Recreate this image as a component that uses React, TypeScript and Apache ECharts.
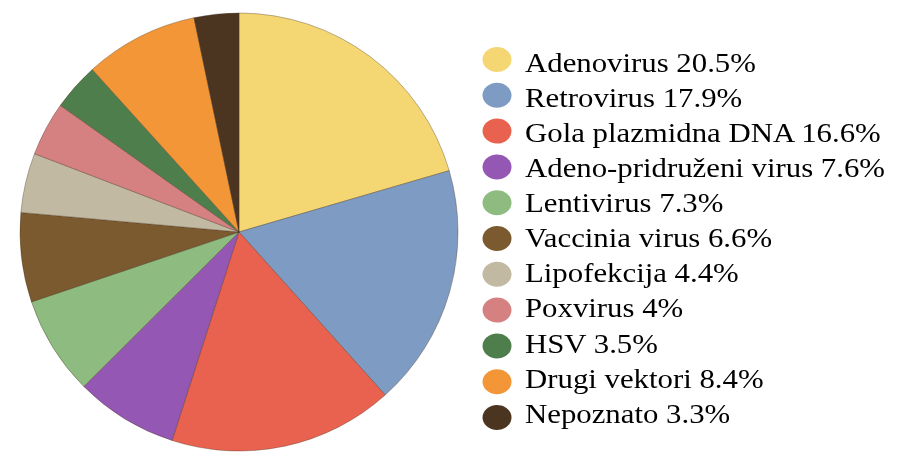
import React, { useEffect, useRef } from "react";
import * as echarts from "echarts";

const categories = [
  "Adenovirus",
  "Retrovirus",
  "Gola plazmidna DNA",
  "Adeno-pridruženi virus",
  "Lentivirus",
  "Vaccinia virus",
  "Lipofekcija",
  "Poxvirus",
  "HSV",
  "Drugi vektori",
  "Nepoznato",
];
const values = [20.5, 17.9, 16.6, 7.6, 7.3, 6.6, 4.4, 4, 3.5, 8.4, 3.3];
const colors = [
  "#F4D672",
  "#7E9CC3",
  "#E9624F",
  "#9457B3",
  "#8EBB80",
  "#7A5A2E",
  "#C2B9A2",
  "#D58181",
  "#4F7E4D",
  "#F29638",
  "#4B3520",
];

export default function App() {
  const ref = useRef<HTMLDivElement>(null);
  useEffect(() => {
    if (!ref.current) return;
    const chart = echarts.init(ref.current, null, { renderer: "svg" });

    const legendItems: any[] = [];
    categories.forEach((c, i) => {
      const circleY = 59.5 + i * 35.8;
      const textY = 48 + i * 35.13;
      legendItems.push({
        type: "ellipse",
        shape: { cx: 497, cy: circleY, rx: 14.5, ry: 12.5 },
        style: { fill: colors[i] },
      });
      legendItems.push({
        type: "text",
        x: 525,
        y: textY,
        scaleX: 1.1,
        style: {
          text: `${c} ${values[i]}%`,
          fontFamily: "Liberation Serif",
          fontSize: 28,
          fill: "#000",
        },
      });
    });

    chart.setOption({
      animation: false,
      graphic: legendItems,
      series: [
        {
          type: "pie",
          center: [239, 232],
          radius: 219,
          startAngle: 90,
          clockwise: true,
          label: { show: false },
          labelLine: { show: false },
          itemStyle: {
            borderColor: "rgba(70,45,25,0.35)",
            borderWidth: 1,
          },
          data: categories.map((c, i) => ({
            name: c,
            value: values[i],
            itemStyle: { color: colors[i] },
          })),
        },
      ],
    });
    return () => chart.dispose();
  }, []);
  return (
    <div
      ref={ref}
      style={{ position: "fixed", left: 0, top: 0, width: 900, height: 456 }}
    />
  );
}
